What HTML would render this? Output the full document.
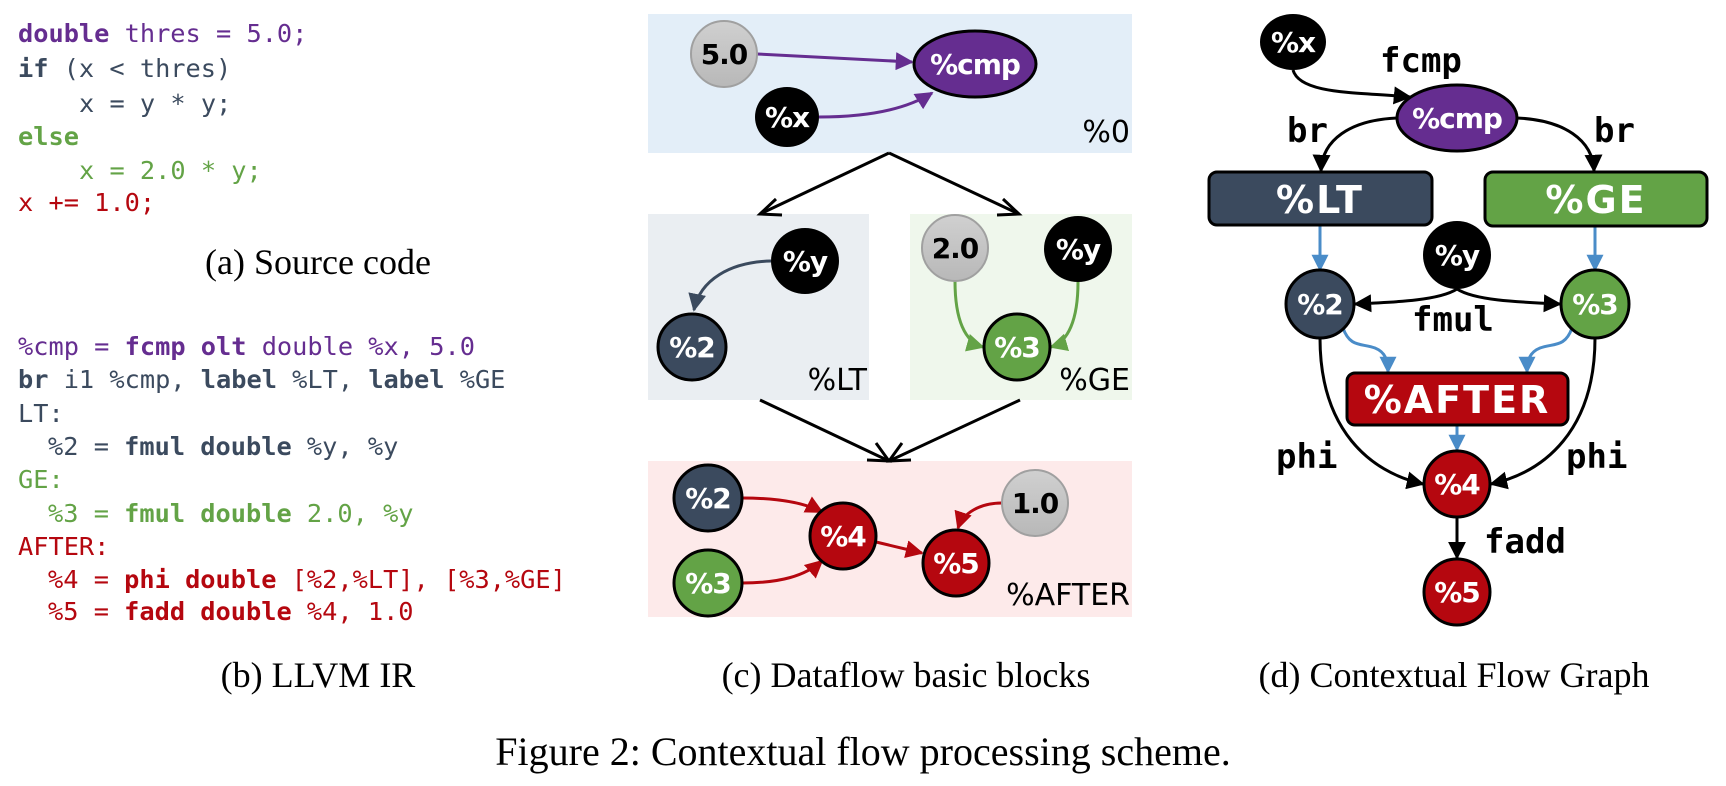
<!DOCTYPE html>
<html><head><meta charset="utf-8">
<style>
html,body{margin:0;padding:0;background:#fff;}
svg{display:block;}
.code text{font-family:"DejaVu Sans Mono","Liberation Mono",monospace;font-size:25.3px;white-space:pre;}
.b{font-weight:bold;}
.cap{font-family:"Liberation Serif",serif;font-size:36px;fill:#000;}
.nt{font-family:"DejaVu Sans","Liberation Sans",sans-serif;font-weight:bold;font-size:28px;fill:#fff;text-anchor:middle;letter-spacing:-1px;}
.ntk{font-family:"DejaVu Sans","Liberation Sans",sans-serif;font-weight:bold;font-size:28px;fill:#000;text-anchor:middle;letter-spacing:-1px;}
.pl{font-family:"DejaVu Sans","Liberation Sans",sans-serif;font-size:30px;fill:#000;text-anchor:end;}
.el{font-family:"DejaVu Sans Mono","Liberation Mono",monospace;font-weight:bold;font-size:34px;fill:#000;}
.bt{font-family:"DejaVu Sans","Liberation Sans",sans-serif;font-weight:bold;font-size:38px;fill:#fff;text-anchor:middle;letter-spacing:2px;}
</style></head><body>
<svg width="1726" height="786" viewBox="0 0 1726 786" xmlns="http://www.w3.org/2000/svg">
<defs>
<marker id="ak" viewBox="0 0 10 10" markerWidth="18" markerHeight="18" refX="9" refY="5" orient="auto" markerUnits="userSpaceOnUse"><path d="M0,0 L10,5 L0,10 z" fill="#000"/></marker>
<marker id="ap" viewBox="0 0 10 10" markerWidth="18" markerHeight="18" refX="9" refY="5" orient="auto" markerUnits="userSpaceOnUse"><path d="M0,0 L10,5 L0,10 z" fill="#652d90"/></marker>
<marker id="as" viewBox="0 0 10 10" markerWidth="18" markerHeight="18" refX="9" refY="5" orient="auto" markerUnits="userSpaceOnUse"><path d="M0,0 L10,5 L0,10 z" fill="#3b4a5e"/></marker>
<marker id="ag" viewBox="0 0 10 10" markerWidth="18" markerHeight="18" refX="9" refY="5" orient="auto" markerUnits="userSpaceOnUse"><path d="M0,0 L10,5 L0,10 z" fill="#63a346"/></marker>
<marker id="ar" viewBox="0 0 10 10" markerWidth="18" markerHeight="18" refX="9" refY="5" orient="auto" markerUnits="userSpaceOnUse"><path d="M0,0 L10,5 L0,10 z" fill="#b5070f"/></marker>
<marker id="ab" viewBox="0 0 10 10" markerWidth="17" markerHeight="17" refX="9" refY="5" orient="auto" markerUnits="userSpaceOnUse"><path d="M0,0 L10,5 L0,10 z" fill="#4a8cc8"/></marker>
<linearGradient id="gg" x1="0" y1="0" x2="0" y2="1"><stop offset="0" stop-color="#d0d0d0"/><stop offset="1" stop-color="#b8b8b8"/></linearGradient>
</defs>

<!-- (a) Source code -->
<g class="code">
<text x="18" y="42" fill="#652d90"><tspan class="b">double</tspan> thres = 5.0;</text>
<text x="18" y="77" fill="#3b4a5e"><tspan class="b">if</tspan> (x &lt; thres)</text>
<text x="79" y="112" fill="#3b4a5e">x = y * y;</text>
<text x="18" y="145" fill="#63a346" class="b">else</text>
<text x="79" y="179" fill="#63a346">x = 2.0 * y;</text>
<text x="18" y="211" fill="#b5070f">x += 1.0;</text>
</g>
<text class="cap" x="318" y="274" text-anchor="middle">(a) Source code</text>

<!-- (b) LLVM IR -->
<g class="code">
<text x="18" y="355" fill="#652d90">%cmp = <tspan class="b">fcmp olt</tspan> double %x, 5.0</text>
<text x="18" y="388" fill="#3b4a5e"><tspan class="b">br</tspan> i1 %cmp, <tspan class="b">label</tspan> %LT, <tspan class="b">label</tspan> %GE</text>
<text x="18" y="422" fill="#3b4a5e">LT:</text>
<text x="48" y="455" fill="#3b4a5e">%2 = <tspan class="b">fmul double</tspan> %y, %y</text>
<text x="18" y="488" fill="#63a346">GE:</text>
<text x="48" y="522" fill="#63a346">%3 = <tspan class="b">fmul double</tspan> 2.0, %y</text>
<text x="18" y="555" fill="#b5070f">AFTER:</text>
<text x="48" y="588" fill="#b5070f">%4 = <tspan class="b">phi double</tspan> [%2,%LT], [%3,%GE]</text>
<text x="48" y="620" fill="#b5070f">%5 = <tspan class="b">fadd double</tspan> %4, 1.0</text>
</g>
<text class="cap" x="318" y="687" text-anchor="middle">(b) LLVM IR</text>

<!-- (c) Dataflow basic blocks -->
<rect x="648" y="14" width="484" height="139" fill="#e3eef8"/>
<rect x="648" y="214" width="221" height="186" fill="#eaeef2"/>
<rect x="910" y="214" width="222" height="186" fill="#eff7ec"/>
<rect x="648" y="461" width="484" height="156" fill="#fdeaea"/>

<text class="pl" x="1130" y="142">%0</text>
<text class="pl" x="867" y="390">%LT</text>
<text class="pl" x="1130" y="390">%GE</text>
<text class="pl" x="1130" y="605">%AFTER</text>

<g stroke="#000" stroke-width="3" fill="none">
<path d="M889,153 L760,214"/><path d="M776,199 L760,214 L782,215"/>
<path d="M889,153 L1019,214"/><path d="M1003,199 L1019,214 L997,215"/>
<path d="M760,400 L889,461"/><path d="M867,460 L889,461 L876,443"/>
<path d="M1020,400 L889,461"/><path d="M911,460 L889,461 L902,443"/>
</g>

<path d="M757,54 L912,62" stroke="#652d90" stroke-width="3" fill="none" marker-end="url(#ap)"/>
<path d="M819,117 C865,117 905,110 932,93" stroke="#652d90" stroke-width="3" fill="none" marker-end="url(#ap)"/>
<ellipse cx="724" cy="54" rx="33" ry="33" fill="url(#gg)" stroke="#a0a0a0" stroke-width="2"/>
<text class="ntk" x="724" y="64">5.0</text>
<ellipse cx="975" cy="64" rx="61" ry="33" fill="#652d90" stroke="#000" stroke-width="3"/>
<text class="nt" x="975" y="74">%cmp</text>
<ellipse cx="787" cy="117" rx="32" ry="30" fill="#000"/>
<text class="nt" x="787" y="127">%x</text>

<path d="M771,261 C730,262 700,280 694,310" stroke="#3b4a5e" stroke-width="3" fill="none" marker-end="url(#as)"/>
<ellipse cx="805" cy="261" rx="34" ry="33" fill="#000"/>
<text class="nt" x="805" y="271">%y</text>
<ellipse cx="692" cy="347" rx="34" ry="33" fill="#3b4a5e" stroke="#000" stroke-width="3"/>
<text class="nt" x="692" y="357">%2</text>

<path d="M955,281 C955,320 965,342 983,347" stroke="#63a346" stroke-width="3" fill="none" marker-end="url(#ag)"/>
<path d="M1078,282 C1078,320 1068,342 1051,347" stroke="#63a346" stroke-width="3" fill="none" marker-end="url(#ag)"/>
<ellipse cx="955" cy="248" rx="33" ry="33" fill="url(#gg)" stroke="#a0a0a0" stroke-width="2"/>
<text class="ntk" x="955" y="258">2.0</text>
<ellipse cx="1078" cy="249" rx="34" ry="33" fill="#000"/>
<text class="nt" x="1078" y="259">%y</text>
<ellipse cx="1017" cy="347" rx="33" ry="33" fill="#63a346" stroke="#000" stroke-width="3"/>
<text class="nt" x="1017" y="357">%3</text>

<path d="M742,498 C780,498 805,503 822,512" stroke="#b5070f" stroke-width="3" fill="none" marker-end="url(#ar)"/>
<path d="M742,583 C780,583 805,576 822,561" stroke="#b5070f" stroke-width="3" fill="none" marker-end="url(#ar)"/>
<path d="M876,542 L922,553" stroke="#b5070f" stroke-width="3" fill="none" marker-end="url(#ar)"/>
<path d="M1002,503 C980,503 963,513 958,528" stroke="#b5070f" stroke-width="3" fill="none" marker-end="url(#ar)"/>
<ellipse cx="708" cy="498" rx="34" ry="33" fill="#3b4a5e" stroke="#000" stroke-width="3"/>
<text class="nt" x="708" y="508">%2</text>
<ellipse cx="708" cy="583" rx="34" ry="33" fill="#63a346" stroke="#000" stroke-width="3"/>
<text class="nt" x="708" y="593">%3</text>
<ellipse cx="843" cy="536" rx="33" ry="33" fill="#b5070f" stroke="#000" stroke-width="3"/>
<text class="nt" x="843" y="546">%4</text>
<ellipse cx="956" cy="563" rx="33" ry="33" fill="#b5070f" stroke="#000" stroke-width="3"/>
<text class="nt" x="956" y="573">%5</text>
<ellipse cx="1035" cy="503" rx="33" ry="33" fill="url(#gg)" stroke="#a0a0a0" stroke-width="2"/>
<text class="ntk" x="1035" y="513">1.0</text>

<text class="cap" x="906" y="687" text-anchor="middle">(c) Dataflow basic blocks</text>

<!-- (d) -->
<g fill="none" stroke-width="3">
<path d="M1293,70 C1300,95 1360,92 1410,97" stroke="#000" marker-end="url(#ak)"/>
<path d="M1397,118 C1350,120 1322,140 1321,171" stroke="#000" marker-end="url(#ak)"/>
<path d="M1517,118 C1564,120 1593,140 1594,171" stroke="#000" marker-end="url(#ak)"/>
<path d="M1320,225 L1320,270" stroke="#4a8cc8" marker-end="url(#ab)"/>
<path d="M1595,226 L1595,270" stroke="#4a8cc8" marker-end="url(#ab)"/>
<path d="M1457,289 C1440,300 1400,302 1355,304" stroke="#000" marker-end="url(#ak)"/>
<path d="M1457,289 C1474,300 1514,302 1560,304" stroke="#000" marker-end="url(#ak)"/>
<path d="M1343,328 C1350,348 1362,343 1375,348 C1385,352 1388,360 1388,372" stroke="#4a8cc8" marker-end="url(#ab)"/>
<path d="M1572,328 C1565,348 1553,343 1540,348 C1530,352 1527,360 1527,372" stroke="#4a8cc8" marker-end="url(#ab)"/>
<path d="M1320,338 C1320,430 1370,472 1423,484" stroke="#000" marker-end="url(#ak)"/>
<path d="M1595,338 C1595,430 1545,472 1491,484" stroke="#000" marker-end="url(#ak)"/>
<path d="M1457,425 L1457,450" stroke="#4a8cc8" marker-end="url(#ab)"/>
<path d="M1457,517 L1457,558" stroke="#000" marker-end="url(#ak)"/>
</g>
<ellipse cx="1293" cy="42" rx="33" ry="28" fill="#000"/>
<text class="nt" x="1293" y="52">%x</text>
<ellipse cx="1457" cy="118" rx="60" ry="33" fill="#652d90" stroke="#000" stroke-width="3"/>
<text class="nt" x="1457" y="128">%cmp</text>
<rect x="1209" y="172" width="223" height="53" rx="8" fill="#3b4a5e" stroke="#000" stroke-width="3"/>
<text class="bt" x="1320" y="213">%LT</text>
<rect x="1485" y="172" width="222" height="54" rx="8" fill="#63a346" stroke="#000" stroke-width="3"/>
<text class="bt" x="1596" y="213">%GE</text>
<ellipse cx="1457" cy="255" rx="34" ry="34" fill="#000"/>
<text class="nt" x="1457" y="265">%y</text>
<ellipse cx="1320" cy="304" rx="34" ry="34" fill="#3b4a5e" stroke="#000" stroke-width="3"/>
<text class="nt" x="1320" y="314">%2</text>
<ellipse cx="1595" cy="304" rx="34" ry="34" fill="#63a346" stroke="#000" stroke-width="3"/>
<text class="nt" x="1595" y="314">%3</text>
<rect x="1347" y="373" width="221" height="52" rx="8" fill="#b5070f" stroke="#000" stroke-width="3"/>
<text class="bt" x="1457" y="413">%AFTER</text>
<ellipse cx="1457" cy="484" rx="33" ry="33" fill="#b5070f" stroke="#000" stroke-width="3"/>
<text class="nt" x="1457" y="494">%4</text>
<ellipse cx="1457" cy="592" rx="33" ry="33" fill="#b5070f" stroke="#000" stroke-width="3"/>
<text class="nt" x="1457" y="602">%5</text>

<text class="el" x="1380" y="72">fcmp</text>
<text class="el" x="1287" y="142">br</text>
<text class="el" x="1594" y="142">br</text>
<text class="el" x="1412" y="331">fmul</text>
<text class="el" x="1276" y="468">phi</text>
<text class="el" x="1566" y="468">phi</text>
<text class="el" x="1484" y="553">fadd</text>

<text class="cap" x="1454" y="687" text-anchor="middle">(d) Contextual Flow Graph</text>

<text class="cap" x="863" y="765" text-anchor="middle" style="font-size:40px">Figure 2: Contextual flow processing scheme.</text>
</svg>
</body></html>
